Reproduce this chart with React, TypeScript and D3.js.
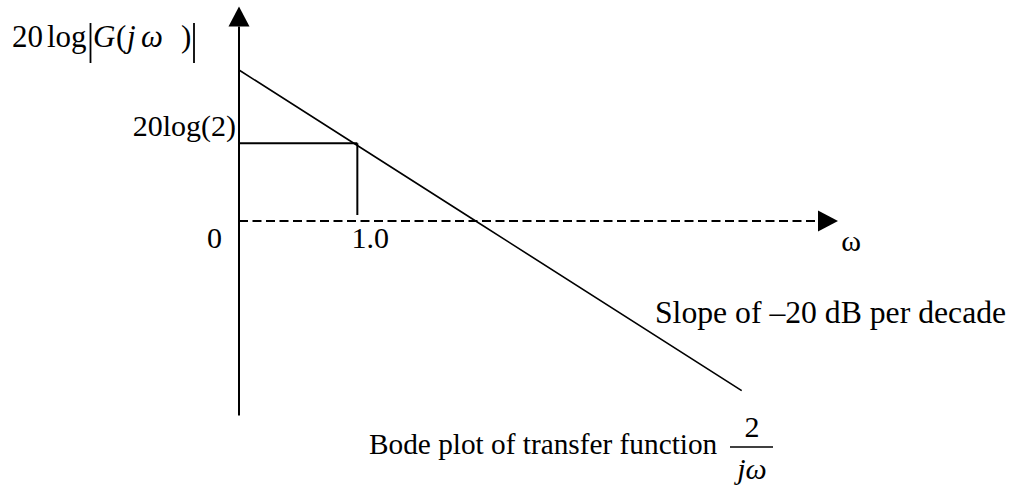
import React from "react";
import * as d3 from "d3";

// Asymptotic magnitude of G(jω) = 2 / (jω)
const omegaPoints = [0.5, 1, 2, 9.5];
const magnitudeDb = [12.04, 6.02, 0, -13.53];

// axis extents (ω and dB)
const omegaAxis = [0.5, 16.7];
const dbAxis = [-15.5, 17.1];

// marker at ω = 1.0, 20log(2)
const markerOmega = 1.0;
const markerDb = 6.2;

const tickZeroLabel = "0";
const tickOmegaLabel = "1.0";
const tickDbLabel = "20log(2)";
const slopeLabel = "Slope of \u201320 dB per decade";
const captionLabel = "Bode plot of transfer function";

const W = 1013;
const H = 489;
const FONT = "'Liberation Serif', 'Times New Roman', Times, serif";

export default function App() {
  const x = d3.scaleLog().domain(omegaAxis).range([239, 838]);
  const y = d3.scaleLinear().domain([0, 12.04]).range([221, 70]);

  const pts = omegaPoints.map((w, i) => [x(w), y(magnitudeDb[i])] as [number, number]);
  const line = d3.line()(pts) as string;

  const x0 = x(omegaAxis[0]);
  const y0 = y(0);
  const xEnd = x(omegaAxis[1]);
  const yTop = y(dbAxis[1]);
  const yBot = y(dbAxis[0]);
  const head = 20;
  const half = 10.5;

  return (
    <svg
      width={W}
      height={H}
      style={{ position: "absolute", left: 0, top: 0, background: "#fff" }}
      fontFamily={FONT}
    >
      <rect width={W} height={H} fill="#fff" />
      {/* vertical axis */}
      <line x1={x0} x2={x0} y1={yBot} y2={yTop + head} stroke="#000" strokeWidth={2} />
      <polygon
        points={`${x0},${yTop} ${x0 - half},${yTop + head} ${x0 + half},${yTop + head}`}
        fill="#000"
      />
      {/* horizontal dashed axis */}
      <line
        x1={x0}
        x2={xEnd - head}
        y1={y0}
        y2={y0}
        stroke="#000"
        strokeWidth={2}
        strokeDasharray="9,4.5"
      />
      <polygon
        points={`${xEnd},${y0} ${xEnd - head},${y0 - half} ${xEnd - head},${y0 + half}`}
        fill="#000"
      />
      {/* magnitude line */}
      <path d={line} fill="none" stroke="#000" strokeWidth={1.6} />
      {/* marker lines */}
      <line x1={x0} x2={x(markerOmega)} y1={y(markerDb)} y2={y(markerDb)} stroke="#000" strokeWidth={2} />
      <line x1={x(markerOmega)} x2={x(markerOmega)} y1={y(markerDb)} y2={y0 - 6} stroke="#000" strokeWidth={2} />

      {/* tick labels */}
      <text x={214.5} y={248} fontSize={30} textAnchor="middle">{tickZeroLabel}</text>
      <text x={x(markerOmega) + 13} y={248} fontSize={30} textAnchor="middle">{tickOmegaLabel}</text>
      <text x={236} y={136} fontSize={30} textAnchor="end">{tickDbLabel}</text>
      <text x={851} y={251} fontSize={30} textAnchor="middle">ω</text>

      {/* y-axis title: 20log|G(jω )| */}
      <text y={47} fontSize={31}>
        <tspan x={12}>20</tspan>
        <tspan x={47}>log</tspan>
      </text>
      <line x1={90.5} x2={90.5} y1={23} y2={63} stroke="#000" strokeWidth={1.8} />
      <text y={47} fontSize={31}>
        <tspan x={93} fontStyle="italic">G</tspan>
        <tspan x={116}>(</tspan>
        <tspan x={127} fontStyle="italic">j</tspan>
        <tspan x={141} fontStyle="italic">ω</tspan>
        <tspan x={181}>)</tspan>
      </text>
      <line x1={194} x2={194} y1={23} y2={63} stroke="#000" strokeWidth={1.8} />

      {/* slope annotation */}
      <text x={655} y={323} fontSize={31.7}>{slopeLabel}</text>

      {/* caption */}
      <text x={369} y={454} fontSize={29.3}>{captionLabel}</text>
      <text x={752} y={437} fontSize={30} textAnchor="middle">2</text>
      <line x1={730} x2={773} y1={447} y2={447} stroke="#000" strokeWidth={1.5} />
      <text x={752} y={479} fontSize={30} textAnchor="middle" fontStyle="italic">jω</text>
    </svg>
  );
}
